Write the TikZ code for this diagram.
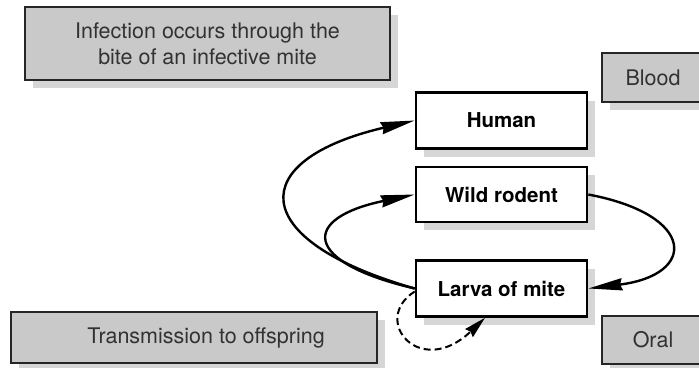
\documentclass[tikz,border=0pt]{standalone}
\usepackage{fontspec}
\setmainfont{TeX Gyre Heros}
\usepackage{tikz}
\usetikzlibrary{arrows.meta, shadows}
\definecolor{boxGray}{RGB}{201, 201, 201}
\definecolor{shadeGray}{RGB}{214, 214, 214}
\definecolor{textGray}{RGB}{50, 50, 50}

\begin{document}
\begin{tikzpicture}[x=1pt, y=-1pt,
    every node/.style={font=\fontsize{20}{25}\selectfont},
    note/.style={draw=black!85, line width=2.6pt, fill=boxGray, text=textGray, align=center,
      font=\fontsize{21.5}{26}\selectfont,
      drop shadow={shadow xshift=8pt, shadow yshift=-8pt, fill=shadeGray, opacity=1}},
    host/.style={draw=black, line width=2.6pt, fill=white, minimum width=171pt, minimum height=56pt,
      font=\fontsize{20.5}{25}\selectfont\bfseries,
      drop shadow={shadow xshift=8pt, shadow yshift=-8pt, fill=shadeGray, opacity=1}},
    route/.style={line width=2.4pt, -{Stealth[length=34pt, width=12pt, inset=2pt]}}]
    \clip (0,0) rectangle (699,367);
    \fill[white] (0,0) rectangle (699,367);
    % Notes
    \node[note, minimum width=365pt, minimum height=73pt] (bite) at (207.5, 43.5) {Infection occurs through the\\bite of an infective mite};
    \node[note, minimum width=102pt, minimum height=49pt] (blood) at (653, 77.5) {Blood};
    \node[note, minimum width=366pt, minimum height=51pt] (offspring) at (194, 337.5) {\hspace*{24pt}Transmission to offspring};
    \node[note, minimum width=102pt, minimum height=48pt] (oral) at (653, 340) {Oral};
    % Hosts
    \node[host] (human) at (501.5, 120.5) {Human};
    \node[host, minimum height=55pt] (rodent) at (501.5, 194.5) {Wild rodent};
    \node[host] (larva) at (501.5, 288.5) {Larva of mite};
    % Cycle
    \draw[route] (larva.west) .. controls (245, 240) and (245, 160) .. (human.west);
    \draw[route] (larva.west) .. controls (301, 262) and (301, 218) .. (rodent.west);
    \draw[route] (rodent.east) .. controls (697, 215) and (697, 275) .. (larva.east);
    \draw[line width=2pt, dash pattern=on 7pt off 4pt, -{Stealth[length=22pt, width=11pt, inset=2pt]}]
      (larva.west) ++(0, 3) .. controls (370, 320) and (420, 380) .. ([xshift=-16.5pt]larva.south);
\end{tikzpicture}
\end{document}
